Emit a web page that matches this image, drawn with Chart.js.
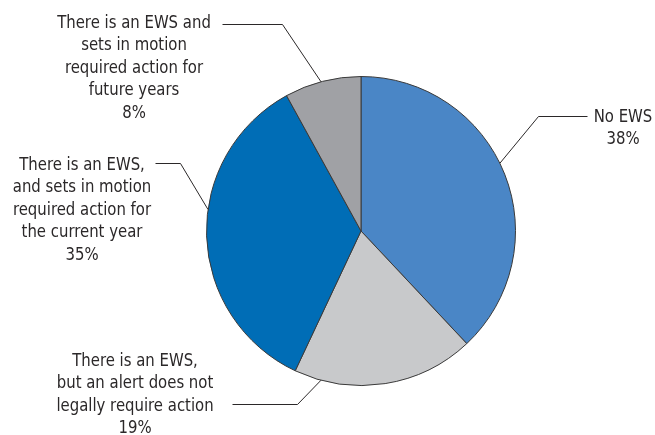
<!DOCTYPE html>
<html>
<head>
    <title>Early warning systems</title>
    <script src="https://cdn.jsdelivr.net/npm/chart.js"></script>
    <style>
        body {
            margin: 0;
            background-color: #ffffff;
        }
        #ews-chart {
            display: block;
        }
    </style>
</head>
<body>
    <canvas id="ews-chart" width="655" height="435"></canvas>

    <script>
        // Slices, clockwise from 12 o'clock
        var categories = [
            'No EWS',
            'There is an EWS, but an alert does not legally require action',
            'There is an EWS, and sets in motion required action for the current year',
            'There is an EWS and sets in motion required action for future years'
        ];
        var shares = [38, 19, 35, 8];
        var sliceColors = ['#4a86c6', '#c8c9cb', '#006db6', '#a0a1a5'];

        // How each category name is broken onto lines next to the pie
        var labelLines = [
            ['No EWS'],
            ['There is an EWS,', 'but an alert does not', 'legally require action'],
            ['There is an EWS,', 'and sets in motion', 'required action for', 'the current year'],
            ['There is an EWS and', 'sets in motion', 'required action for', 'future years']
        ];

        // Callout placement, relative to the pie centre:
        // angle = where the leader leaves the rim (deg, canvas convention),
        // elbow / end = bend and tip of the leader, text = first line centre
        var callouts = [
            { angle: -26,  elbow: [177, -115], end: [226, -115], text: [262, -114] },
            { angle: 105,  elbow: [-64, 173],  end: [-129, 173], text: [-226, 130] },
            { angle: 188,  elbow: [-181, -68], end: [-206, -68], text: [-279, -66] },
            { angle: -105, elbow: [-79, -207], end: [-139, -207], text: [-227, -208] }
        ];

        var LINE_GAP = 22.5;
        var NARROW = 0.92;   // squeeze the labels a little horizontally
        var INK = '#2b2829';

        var calloutPlugin = {
            id: 'callouts',
            afterDatasetsDraw: function (chart) {
                var ctx = chart.ctx;
                var arcs = chart.getDatasetMeta(0).data;
                var cx = arcs[0].x;
                var cy = arcs[0].y;
                var r = arcs[0].outerRadius;

                ctx.save();
                ctx.strokeStyle = INK;
                ctx.lineWidth = 1;
                ctx.fillStyle = INK;
                ctx.font = '18px "DejaVu Sans Condensed", "DejaVu Sans", sans-serif';
                ctx.textAlign = 'center';
                ctx.textBaseline = 'middle';

                for (var i = 0; i < callouts.length; i++) {
                    var c = callouts[i];
                    var a = c.angle * Math.PI / 180;

                    ctx.beginPath();
                    ctx.moveTo(cx + r * Math.cos(a), cy + r * Math.sin(a));
                    ctx.lineTo(cx + c.elbow[0] + 0.5, cy + c.elbow[1] + 0.5);
                    ctx.lineTo(cx + c.end[0] + 0.5, cy + c.end[1] + 0.5);
                    ctx.stroke();

                    var lines = labelLines[i].concat([shares[i] + '%']);
                    for (var j = 0; j < lines.length; j++) {
                        ctx.save();
                        ctx.translate(cx + c.text[0], cy + c.text[1] + j * LINE_GAP);
                        ctx.scale(NARROW, 1);
                        ctx.fillText(lines[j], 0, 0);
                        ctx.restore();
                    }
                }
                ctx.restore();
            }
        };

        new Chart(document.getElementById('ews-chart'), {
            type: 'pie',
            data: {
                labels: categories,
                datasets: [{
                    data: shares,
                    backgroundColor: sliceColors,
                    borderColor: '#3a3a3a',
                    borderWidth: 1
                }]
            },
            options: {
                responsive: false,
                animation: false,
                layout: {
                    padding: { left: 206, right: 139, top: 76, bottom: 49 }
                },
                plugins: {
                    legend: { display: false },
                    tooltip: { enabled: false }
                }
            },
            plugins: [calloutPlugin]
        });
    </script>
</body>
</html>
